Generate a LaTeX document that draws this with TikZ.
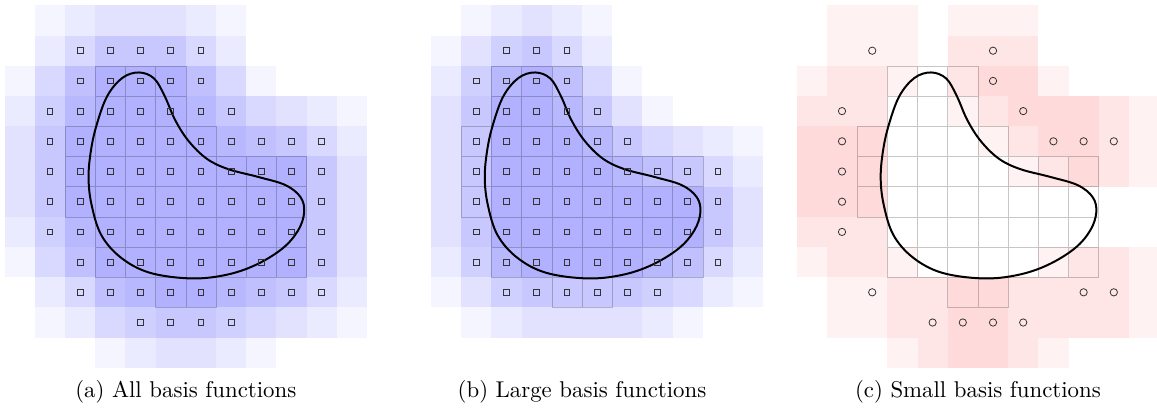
\documentclass[tikz,border=0pt]{standalone}

% basis functions, as row/{columns} of the grid cell holding the marker
\newcommand{\largefns}{1/{3,4,5},2/{2,...,5},3/{2,...,6},4/{2,...,7},5/{2,...,10},6/{2,...,10},7/{2,...,10},8/{2,...,10},9/{3,...,8}}
\newcommand{\smallfns}{1/{2,6},2/{6},3/{1,7},4/{1,8,9,10},5/{1},6/{1},7/{1},9/{2,9,10},10/{4,...,7}}
% cells cut by the domain
\newcommand{\domaincells}{2/{3,4,5},3/{3,4,5},4/{2,...,6},5/{2,...,9},6/{2,...,9},7/{3,...,9},8/{3,...,9},9/{5,6}}

\tikzset{
  blueshade/.style={fill=blue, fill opacity=0.038},
  redshade/.style={fill=red, fill opacity=0.05},
  cellgrid/.style={draw=black, draw opacity=0.22, line width=0.4pt},
  beanline/.style={line width=1.5pt, line join=round},
  sqmark/.style={rectangle, draw=black!80, line width=0.6pt, inner sep=0pt, minimum size=4.3pt},
  circmark/.style={circle, draw=black!80, line width=0.6pt, inner sep=0pt, minimum size=5.5pt},
  subcap/.style={scale=1.72}
}

\begin{document}
\begin{tikzpicture}[x=8mm, y=-8mm]
\useasboundingbox (-0.152,-0.179) rectangle (38.16,13.70);

%% supports (3x3 cells each)
% (a) all
\foreach \r/\cols in \largefns {\foreach \c in \cols {\fill[blueshade] (\c-1,\r-1) rectangle (\c+2,\r+2);}}
\foreach \r/\cols in \smallfns {\foreach \c in \cols {\fill[blueshade] (\c-1,\r-1) rectangle (\c+2,\r+2);}}
% (b) large
\begin{scope}[shift={(13.12,0)}]
\foreach \r/\cols in \largefns {\foreach \c in \cols {\fill[blueshade] (\c-1,\r-1) rectangle (\c+2,\r+2);}}
\end{scope}
% (c) small
\begin{scope}[shift={(26.23,0)}]
\foreach \r/\cols in \smallfns {\foreach \c in \cols {\fill[redshade] (\c-1,\r-1) rectangle (\c+2,\r+2);}}
\end{scope}

%% cut cells and domain boundary, same in every panel
\foreach \dx in {0,13.12,26.23}{
\begin{scope}[shift={(\dx,0)}]
\draw[cellgrid] \foreach \r/\cols in \domaincells {\foreach \c in \cols {(\c,\r) rectangle +(1,1)}};
\draw[beanline] plot[smooth cycle, tension=0.6] coordinates {
  (4.45,2.22) (4.95,2.42) (5.3,3.0) (5.65,3.8) (6.1,4.5) (6.7,5.08) (7.4,5.42)
  (8.4,5.68) (9.3,5.95) (9.8,6.35) (9.92,6.85) (9.72,7.45) (9.2,8.05) (8.3,8.6)
  (7.3,8.93) (6.15,9.04) (4.8,8.85) (3.85,8.35) (3.2,7.6) (2.88,6.6) (2.78,5.7)
  (2.86,4.8) (3.05,3.95) (3.4,3.0) (3.9,2.4)};
\end{scope}
}

%% markers
\foreach \r/\cols in \largefns {\foreach \c in \cols {\node[sqmark] (a-\c-\r) at (\c+0.5,\r+0.5) {};}}
\foreach \r/\cols in \smallfns {\foreach \c in \cols {\node[sqmark] (a-\c-\r) at (\c+0.5,\r+0.5) {};}}
\begin{scope}[shift={(13.12,0)}]
\foreach \r/\cols in \largefns {\foreach \c in \cols {\node[sqmark] (b-\c-\r) at (\c+0.5,\r+0.5) {};}}
\end{scope}
\begin{scope}[shift={(26.23,0)}]
\foreach \r/\cols in \smallfns {\foreach \c in \cols {\node[circmark] (c-\c-\r) at (\c+0.5,\r+0.5) {};}}
\end{scope}

%% captions
\node[subcap] (cap-a) at (6,12.8) {(a) All basis functions};
\node[subcap] (cap-b) at (19.12,12.8) {(b) Large basis functions};
\node[subcap] (cap-c) at (32.23,12.8) {(c) Small basis functions};
\end{tikzpicture}
\end{document}
